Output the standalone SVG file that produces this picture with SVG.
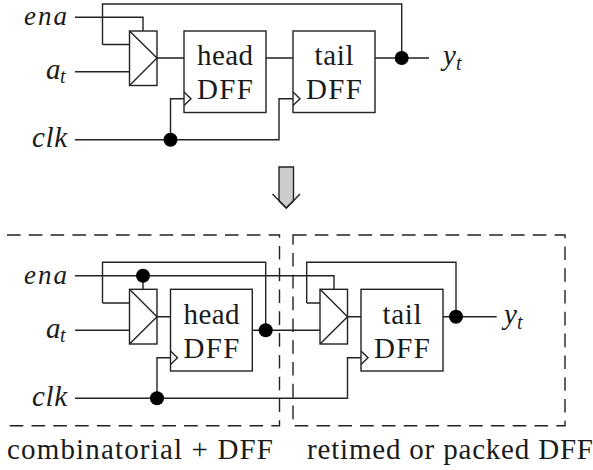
<svg xmlns="http://www.w3.org/2000/svg" width="593" height="470" viewBox="0 0 593 470">
<style>
text{font-family:"Liberation Serif","Times New Roman",serif;font-size:29px;fill:#1a1a1a}
.m{font-style:italic}
.e{font-size:27px}
.s{font-style:italic;font-size:20px}
.c{text-anchor:middle}
.w{fill:none;stroke:#222;stroke-width:1.4}
.b{fill:#fff;stroke:#222;stroke-width:1.4}
.d{fill:none;stroke:#222;stroke-width:1.4;stroke-dasharray:13.6 8.2}
.k{fill:#000}
</style>
<g id="connectors">
<path class="w" d="M75 17.3H143V31M102.5 44.5V4H401.7V58M102.5 44.5H129.5M75 71.7H129.5M157 58H184M266 58H293M375 58H429M75 139.7H279V98.7H293M170.5 139.7V98.7H184"/>
<path class="w" d="M75 275.7H334V289.3M143 275.7V289.3M102.5 303V262.3H265.7V330.3M102.5 303H129.5M75 330.3H129.5M157 316.7H170.5M252.3 330.3H320M75 398.3H347.5V357.7H361M157 398.3V357.7H170.5M306.7 303V262.3H456V316.7M306.7 303H320M347.5 316.7H361M443 316.7H496.7"/>
</g>
<g id="mux-top"><rect class="b" x="129.5" y="31" width="27.5" height="54.5"/><path class="w" d="M129.5 31L157 58L129.5 85.5"/></g>
<g id="head-top"><rect class="b" x="184" y="31" width="82" height="81.5"/><path class="w" d="M184 92L191 98.7L184 105.5"/><text class="c" x="225" y="65" textLength="56">head</text><text class="c" x="225" y="99" textLength="56">DFF</text></g>
<g id="tail-top"><rect class="b" x="293" y="31" width="82" height="81.5"/><path class="w" d="M293 92L300 98.7L293 105.5"/><text class="c" x="334" y="65" textLength="39">tail</text><text class="c" x="334" y="99" textLength="56">DFF</text></g>
<g id="dots-top"><circle class="k" cx="170.5" cy="139.7" r="7"/><circle class="k" cx="401.7" cy="58" r="7"/></g>
<g id="labels-top">
<text class="m e" x="24" y="24.5" textLength="43">ena</text>
<text class="m" x="46" y="78.5">a</text><text class="s" x="60" y="83">t</text>
<text class="m" x="32" y="146.5" textLength="35">clk</text>
<text class="m" x="443" y="65">y</text><text class="s" x="456" y="70">t</text>
</g>
<g id="arrow"><path d="M279 201V167H293.5V201L286.3 208Z" fill="#ccc" stroke="#222" stroke-width="1.4"/><path class="w" d="M272.5 194L286.3 208L300 194"/></g>
<g id="region-left"><path class="d" d="M7 235H279.5V425.7H7"/><text x="7" y="459" textLength="266">combinatorial + DFF</text></g>
<g id="region-right"><rect class="d" x="293" y="235" width="272" height="190.7"/><text x="307" y="459" textLength="286">retimed or packed DFF</text></g>
<g id="mux-left"><rect class="b" x="129.5" y="289.3" width="27.5" height="54.7"/><path class="w" d="M129.5 289.3L157 316.7L129.5 344"/></g>
<g id="head-bottom"><rect class="b" x="170.5" y="289.3" width="81.8" height="81.7"/><path class="w" d="M170.5 351L177.5 357.7L170.5 364.5"/><text class="c" x="211.5" y="323.5" textLength="56">head</text><text class="c" x="211.5" y="358" textLength="56">DFF</text></g>
<g id="mux-right"><rect class="b" x="320" y="289.3" width="27.5" height="54.7"/><path class="w" d="M320 289.3L347.5 316.7L320 344"/></g>
<g id="tail-bottom"><rect class="b" x="361" y="289.3" width="82" height="81.7"/><path class="w" d="M361 351L368 357.7L361 364.5"/><text class="c" x="402" y="323.5" textLength="39">tail</text><text class="c" x="402" y="358" textLength="56">DFF</text></g>
<g id="dots-bottom"><circle class="k" cx="143" cy="275.7" r="7"/><circle class="k" cx="265.7" cy="330.3" r="7"/><circle class="k" cx="157" cy="398.3" r="7"/><circle class="k" cx="456" cy="316.7" r="7"/></g>
<g id="labels-bottom">
<text class="m e" x="24" y="283.5" textLength="43">ena</text>
<text class="m" x="46" y="337.5">a</text><text class="s" x="60" y="342">t</text>
<text class="m" x="32" y="405.5" textLength="35">clk</text>
<text class="m" x="504" y="323.5">y</text><text class="s" x="517" y="328.5">t</text>
</g>
</svg>
